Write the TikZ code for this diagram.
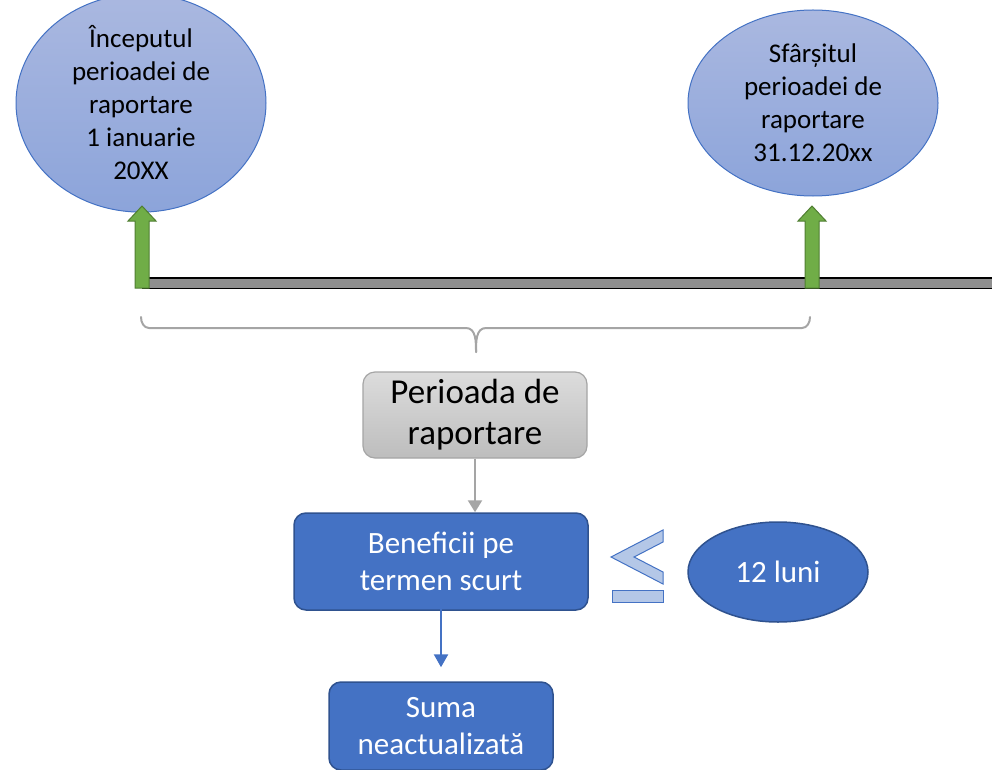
\documentclass[tikz,border=0pt]{standalone}
\usepackage{fontspec}
\setmainfont{Carlito}
\usetikzlibrary{shapes.geometric,arrows.meta}
\definecolor{mblue}{HTML}{4472C4}
\definecolor{dblue}{HTML}{2F528F}
\definecolor{elltop}{HTML}{AAB8E0}
\definecolor{ellbot}{HTML}{8CA4DA}
\definecolor{gtop}{HTML}{DCDCDC}
\definecolor{gbot}{HTML}{BDBDBD}
\definecolor{gborder}{HTML}{A5A5A5}
\definecolor{agreen}{HTML}{70AD47}
\definecolor{dgreen}{HTML}{507E32}
\definecolor{lblue}{HTML}{B4C7E7}
\definecolor{bargrey}{HTML}{8F8F8F}
\tikzset{
  ell/.style={ellipse, draw=mblue, line width=1pt, top color=elltop, bottom color=ellbot,
    minimum width=250pt, minimum height=186pt, inner sep=0pt, align=center,
    font=\fontsize{27}{33}\selectfont},
  bluebox/.style={rectangle, rounded corners=12pt, draw=dblue, line width=1.5pt, fill=mblue,
    text=white, align=center, inner sep=0pt, font=\fontsize{31}{37}\selectfont},
  greybox/.style={rectangle, rounded corners=12pt, draw=gborder, line width=1.2pt,
    top color=gtop, bottom color=gbot, align=center, inner sep=0pt,
    font=\fontsize{35}{41}\selectfont},
  blueell/.style={ellipse, draw=dblue, line width=1.5pt, fill=mblue, text=white,
    minimum width=180pt, minimum height=100pt, inner sep=0pt, font=\fontsize{31}{37}\selectfont},
  greenarrow/.style={fill=agreen, draw=dgreen, line width=1pt},
  bracestyle/.style={draw=gborder, line width=2pt},
  greyarrow/.style={draw=gborder, line width=2.5pt, -{Triangle[width=14pt,length=12pt]}},
  bluearrow/.style={draw=mblue, line width=2.5pt, -{Triangle[width=14pt,length=13pt]}},
  lesseq/.style={draw=mblue, line width=1pt, fill=lblue}
}
\begin{document}
\begin{tikzpicture}[x=1pt,y=-1pt]
\useasboundingbox (0,0) rectangle (992,770);
% ellipses
\node[ell] (start) at (141,103) {Începutul\\perioadei de\\raportare\\1 ianuarie\\20XX};
\node[ell] (end) at (813,103) {Sfârșitul\\perioadei de\\raportare\\31.12.20xx};
% timeline bar
\fill[bargrey] (142,278) rectangle (992,288);
\draw[black, line width=2pt] (142,278) -- (992,278);
\draw[black, line width=1pt] (142,288) -- (992,288);
% green block arrows
\draw[greenarrow] (135,288) -- (135,221) -- (128,221) -- (142,206) -- (156,221) -- (149,221) -- (149,288) -- cycle;
\draw[greenarrow] (805,288) -- (805,221) -- (798,221) -- (812,206) -- (826,221) -- (819,221) -- (819,288) -- cycle;
% brace
\coordinate (bl) at (141,317);
\coordinate (br) at (810,317);
\coordinate (btip) at (476,352);
\draw[bracestyle, line cap=round] (bl) to[out=-90,in=180] (149,328) -- (466,328) to[out=0,in=90] (btip);
\draw[bracestyle, line cap=round] (br) to[out=-90,in=0] (802,328) -- (486,328) to[out=180,in=90] (btip);
% boxes
\node[greybox, minimum width=224pt, minimum height=86pt] (per) at (475,415) {Perioada de\\raportare};
\node[bluebox, minimum width=294pt, minimum height=97pt] (ben) at (441,561.5) {Beneficii pe\\termen scurt};
\node[bluebox, minimum width=224pt, minimum height=88pt] (suma) at (441,726) {Suma\\neactualizată};
\node[blueell] (luni) at (778,572) {12 luni};
% arrows
\draw[greyarrow] (per.south) -- (ben.north -| per.south);
\draw[bluearrow] ([yshift=8pt]ben.south) -- ([yshift=14pt]suma.north);
% less-or-equal sign
\draw[lesseq] (663,530) -- (611,557) -- (663,584) -- (663,572) -- (634,557) -- (663,542) -- cycle;
\draw[lesseq] (612,590) rectangle (663,602);
\end{tikzpicture}
\end{document}
